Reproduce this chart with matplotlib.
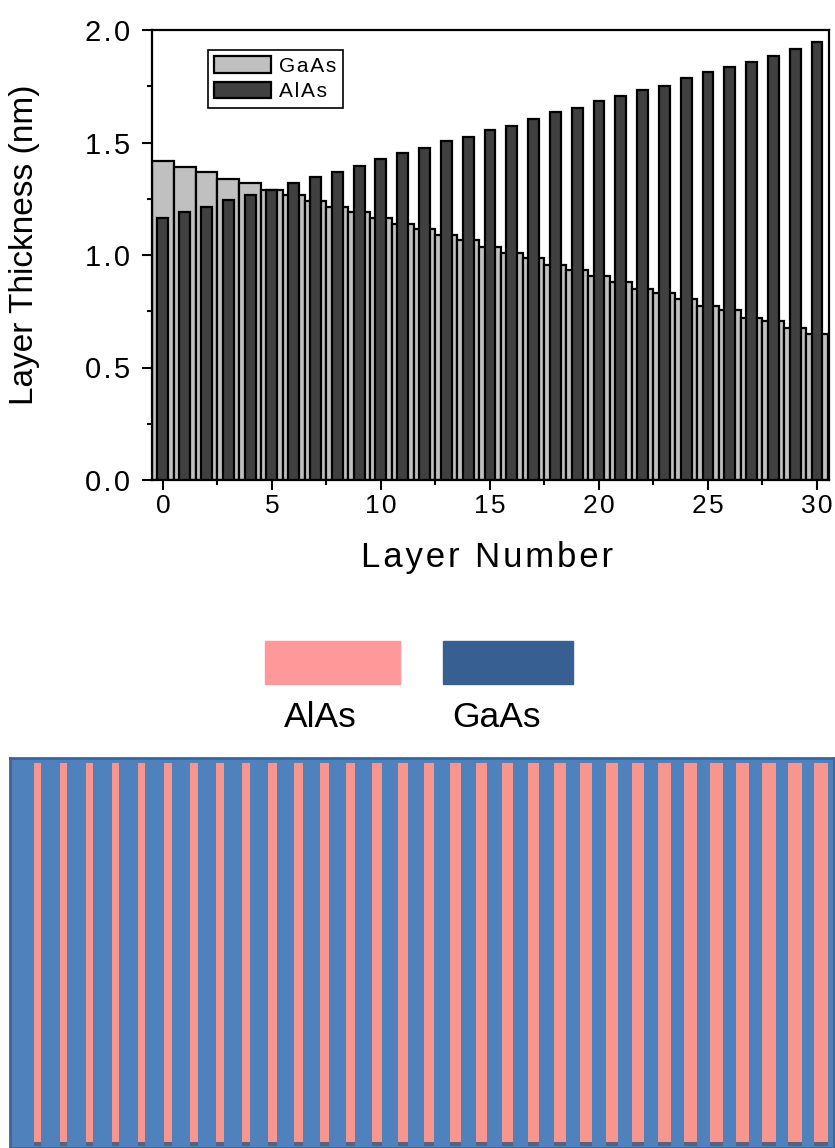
import numpy as np
import matplotlib
matplotlib.use("Agg")
import matplotlib.pyplot as plt
from matplotlib.patches import Rectangle
from matplotlib.ticker import MultipleLocator, FuncFormatter

plt.rcParams['font.family'] = ['Liberation Sans', 'DejaVu Sans']

# layer thicknesses (nm) for each period of the superlattice
layer = np.arange(31)
gaas = [1.42, 1.39, 1.37, 1.34, 1.32, 1.29, 1.265, 1.24, 1.215, 1.19, 1.165,
        1.14, 1.115, 1.09, 1.065, 1.035, 1.01, 0.985, 0.955, 0.935, 0.905,
        0.88, 0.85, 0.83, 0.805, 0.775, 0.755, 0.72, 0.705, 0.675, 0.65]
alas = [1.165, 1.19, 1.215, 1.245, 1.265, 1.29, 1.32, 1.345, 1.37, 1.395, 1.425,
        1.455, 1.475, 1.505, 1.525, 1.555, 1.575, 1.605, 1.635, 1.655, 1.685,
        1.705, 1.735, 1.75, 1.785, 1.815, 1.835, 1.86, 1.885, 1.915, 1.945]

W, H = 835, 1148


def spaced(s):
    # wide letter spacing like the Origin export
    return '\u200a'.join(s)


fig = plt.figure(figsize=(W / 100, H / 100), dpi=100)

# ---- thickness bar chart ----
ax = fig.add_axes([152 / W, 1 - 480 / H, 677 / W, 450 / H])
ax.bar(layer, gaas, width=1.0, color='#c0c0c0', edgecolor='black',
       linewidth=1.6, label=spaced('GaAs'), zorder=2)
ax.bar(layer, alas, width=0.5, color='#404040', edgecolor='black',
       linewidth=1.6, label=spaced('AlAs'), zorder=3)
ax.set_xlim(-0.5, 30.55)
ax.set_ylim(0, 2.0)
ax.xaxis.set_major_locator(MultipleLocator(5))
ax.xaxis.set_minor_locator(MultipleLocator(2.5))
ax.yaxis.set_major_locator(MultipleLocator(0.5))
ax.yaxis.set_minor_locator(MultipleLocator(0.25))
ax.xaxis.set_major_formatter(FuncFormatter(lambda v, p: spaced(f'{v:.0f}')))
ax.yaxis.set_major_formatter(FuncFormatter(lambda v, p: spaced(f'{v:.1f}')))
ax.tick_params(which='major', direction='out', length=7, width=1.5)
ax.tick_params(which='minor', direction='out', length=3.5, width=1.5)
ax.tick_params(axis='x', labelsize=19, pad=3)
ax.tick_params(axis='y', labelsize=21, pad=9)
for s in ax.spines.values():
    s.set_linewidth(1.6)

leg = ax.legend(loc='upper left', bbox_to_anchor=(0.083, 0.956), fontsize=15,
                fancybox=False, edgecolor='black', framealpha=1,
                handlelength=2.7, handleheight=0.85, labelspacing=0.3,
                borderpad=0.3, handletextpad=0.4, borderaxespad=0)
leg.get_frame().set_linewidth(1.2)

fig.text(25 / W, 1 - 245 / H, 'Layer Thickness (nm)', rotation=90,
         ha='center', va='center', fontsize=24)
fig.text(487 / W, 1 - 567 / H, spaced('Layer Number'), ha='center',
         va='baseline', fontsize=25)

# ---- colour key for the schematic ----
fig.add_artist(Rectangle((265 / W, 1 - 684 / H), 135 / W, 43 / H,
                         transform=fig.transFigure, color='#FF9999'))
fig.add_artist(Rectangle((443 / W, 1 - 684 / H), 130 / W, 43 / H,
                         transform=fig.transFigure, color='#375F92'))
fig.text(320 / W, 1 - 727 / H, 'AlAs', ha='center', va='baseline', fontsize=25.5)
fig.text(496 / W, 1 - 727 / H, 'GaAs', ha='center', va='baseline', fontsize=25.5)

# ---- superlattice schematic: GaAs background, AlAs stripes ----
ga = np.array(gaas)
al = np.array(alas)
period_start = np.concatenate([[0], np.cumsum(ga + al)[:-1]])
alas_start = period_start + ga
total = (ga + al).sum()
inset = 0.27

ax2 = fig.add_axes([10 / W, 0, 824 / W, 390 / H])
ax2.set_facecolor('#4F81BD')
ax2.bar(alas_start + inset, 0.972, width=al - 2 * inset, bottom=0.005,
        align='edge', color='#5E6078', linewidth=0, zorder=2)
ax2.bar(alas_start + inset, 0.972, width=al - 2 * inset, bottom=0.0154,
        align='edge', color='#F7968F', linewidth=0, zorder=3)
ax2.set_xlim(-0.7, total + 0.3)
ax2.set_ylim(0, 1)
ax2.set_xticks([])
ax2.set_yticks([])
for s in ax2.spines.values():
    s.set_color('#3D6596')
    s.set_linewidth(2)

fig.savefig('out.png', dpi=100)
